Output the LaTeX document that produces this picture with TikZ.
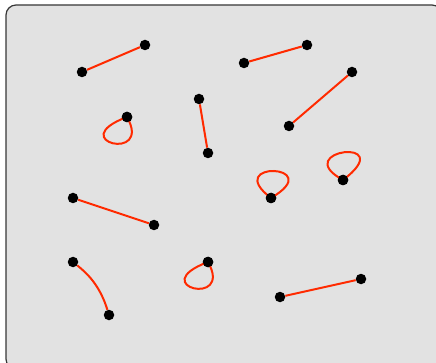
\documentclass[tikz,border=0pt]{standalone}
\begin{document}
\begin{tikzpicture}[x=1pt,y=-1pt,
  dot/.style={circle,fill=black,inner sep=0pt,minimum size=10.5pt},
  link/.style={draw={rgb,255:red,255;green,42;blue,0},line width=2pt}]
\useasboundingbox (0,0) rectangle (436,363);
\path[fill={rgb,255:red,226;green,226;blue,226},draw={rgb,255:red,55;green,55;blue,55},line width=1.2pt,rounded corners=10pt]
  (6,5) rectangle (442,369);
\node[dot] (a1) at (82,72) {};
\node[dot] (a2) at (145,45) {};
\node[dot] (b1) at (244,63) {};
\node[dot] (b2) at (307,45) {};
\node[dot] (c1) at (199,99) {};
\node[dot] (c2) at (208,153) {};
\node[dot] (d1) at (352,72) {};
\node[dot] (d2) at (289,126) {};
\node[dot] (e1) at (73,198) {};
\node[dot] (e2) at (154,225) {};
\node[dot] (f1) at (73,262) {};
\node[dot] (f2) at (109,315) {};
\node[dot] (g1) at (280,297) {};
\node[dot] (g2) at (361,279) {};
\node[dot] (l1) at (127,117) {};
\node[dot] (l2) at (271,198) {};
\node[dot] (l3) at (343,180) {};
\node[dot] (l4) at (208,262) {};
\draw[link] (a1) -- (a2);
\draw[link] (b1) -- (b2);
\draw[link] (c1) -- (c2);
\draw[link] (d1) -- (d2);
\draw[link] (e1) -- (e2);
\draw[link] (f1) .. controls (88,274) and (100,286) .. (f2);
\draw[link] (g1) -- (g2);
\draw[link] (l1.center) .. controls +(-64,24) and +(26,46) .. (l1.center);
\draw[link] (l4.center) .. controls +(-64,24) and +(26,46) .. (l4.center);
\draw[link] (l2.center) .. controls +(-50,-38) and +(58,-34) .. (l2.center);
\draw[link] (l3.center) .. controls +(-55,-30) and +(58,-44) .. (l3.center);
\foreach \n in {l1,l2,l3,l4} \node[dot] at (\n) {};
\end{tikzpicture}
\end{document}
